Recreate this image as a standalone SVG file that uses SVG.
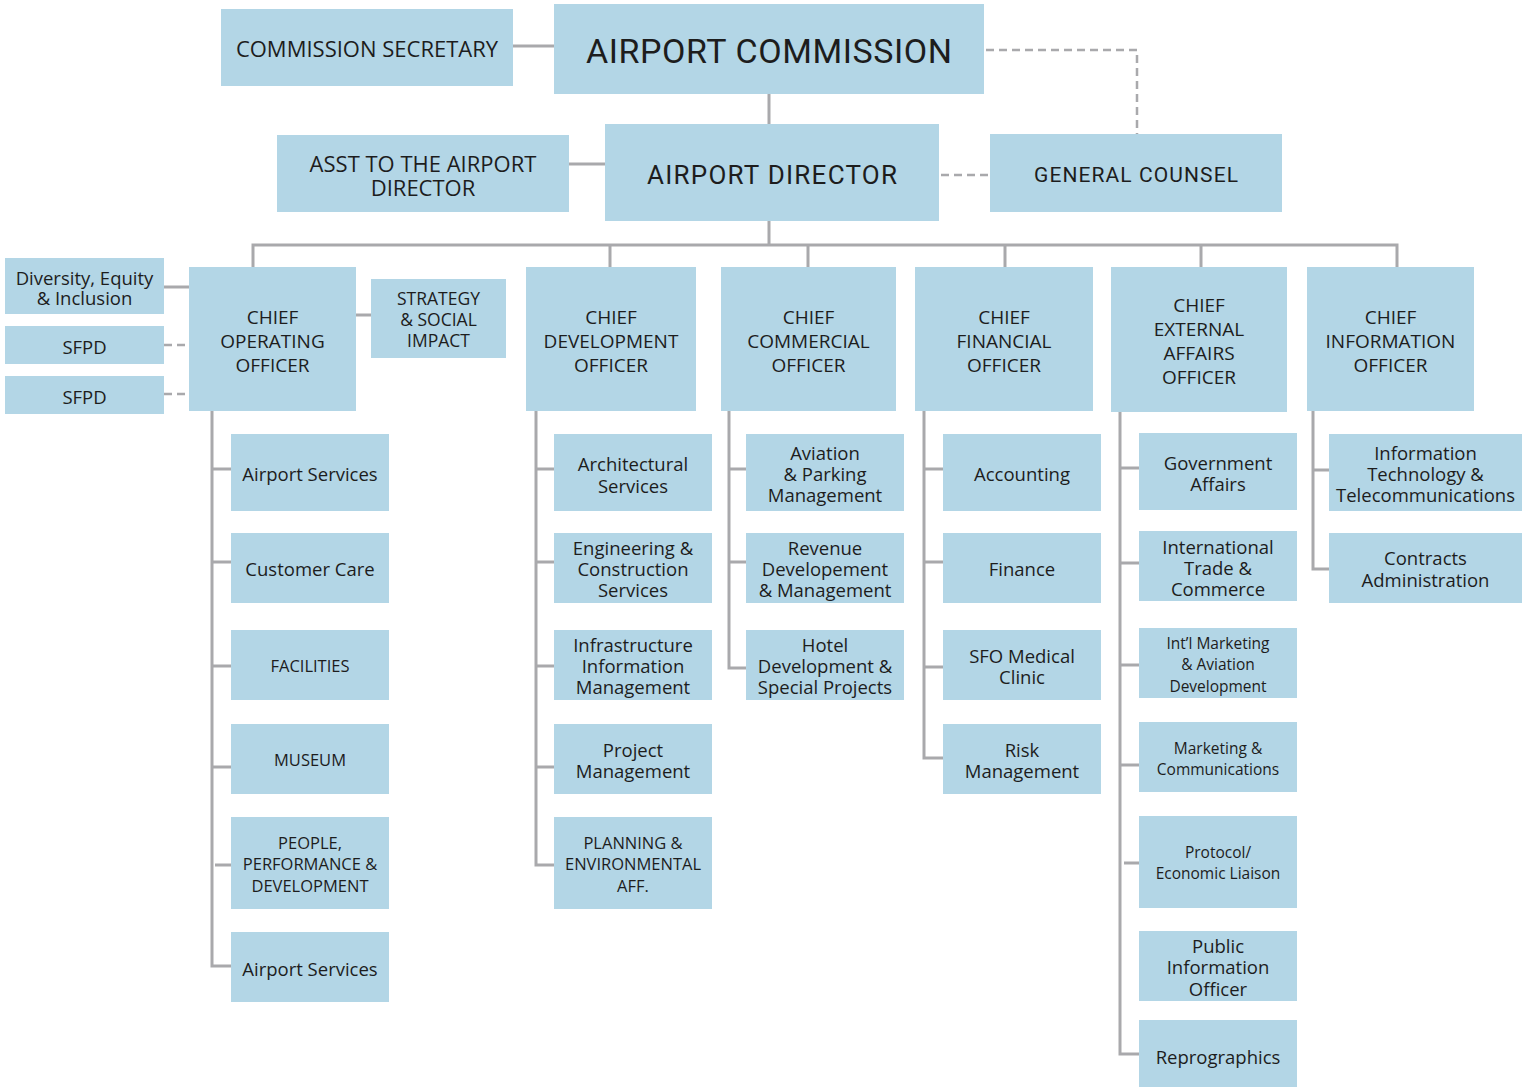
<svg xmlns="http://www.w3.org/2000/svg" width="1526" height="1087" viewBox="0 0 1526 1087">
<style>
.box{fill:#b3d6e6}
.ln{stroke:#a9a9ac;stroke-width:3;fill:none}
.dash{stroke:#a9a9ac;stroke-width:2.5;fill:none;stroke-dasharray:8 5}
text{font-family:"Open Sans","Noto Sans","Liberation Sans",sans-serif;fill:#1d1d1d;text-anchor:middle;dominant-baseline:central}
.ttl{font-family:Roboto,"Liberation Sans",sans-serif}
.top{font-size:22px}
.chief{font-size:19px}
.sub{font-size:18.5px}
.caps{font-size:16.5px}
.sm{font-size:15.5px}
.side{font-size:18.5px}
.strat{font-size:17.5px}
</style>
<rect width="1526" height="1087" fill="#ffffff"/>
<g id="connectors">
<path class="ln" d="M513,46 H554 M769,94 V124 M569,164 H605 M769,221 V245"/>
<path class="ln" d="M253,267 V245 H1397 V267 M610,245 V267 M808,245 V267 M1005,245 V267 M1201,245 V267"/>
<path class="ln" d="M164,287 H189 M356,315 H371"/>
<path class="ln" d="M212,411 V966 H231 M212,469 H231 M212,562 H231 M212,666 H231 M212,767 H231 M215,865 H231"/>
<path class="ln" d="M536,411 V865 H554 M536,469 H554 M536,562 H554 M536,666 H554 M536,767 H554"/>
<path class="ln" d="M729,411 V668 H746 M729,469 H746 M729,562 H746"/>
<path class="ln" d="M924,411 V758 H943 M924,469 H943 M924,562 H943 M924,667 H943"/>
<path class="ln" d="M1120,411 V1054 H1139 M1120,468 H1139 M1120,563 H1139 M1120,665 H1139 M1120,765 H1139 M1124,863 H1139"/>
<path class="ln" d="M1313,411 V569 H1329 M1313,470 H1329"/>
<path class="dash" d="M986,50 H1137 V134"/>
<path class="dash" d="M941,175 H990"/>
<path class="dash" d="M164,345 H189 M164,394 H189"/>
</g>
<g id="commission-secretary"><rect class="box" x="221" y="9" width="292" height="77"/><text class="top" x="367" y="48">COMMISSION SECRETARY</text></g>
<g id="airport-commission"><rect class="box" x="554" y="4" width="430" height="90"/><text class="ttl" x="769" y="51" font-size="34" textLength="366">AIRPORT COMMISSION</text></g>
<g id="asst-director"><rect class="box" x="277" y="135" width="292" height="77"/><text class="top" x="423" y="163">ASST TO THE AIRPORT</text><text class="top" x="423" y="187">DIRECTOR</text></g>
<g id="airport-director"><rect class="box" x="605" y="124" width="334" height="97"/><text class="ttl" x="772" y="175" font-size="26" textLength="250">AIRPORT DIRECTOR</text></g>
<g id="general-counsel"><rect class="box" x="990" y="134" width="292" height="78"/><text class="ttl" x="1136" y="175" font-size="21" textLength="204">GENERAL COUNSEL</text></g>

<g id="diversity"><rect class="box" x="5" y="258" width="159" height="56"/><text class="side" x="84.5" y="277">Diversity, Equity</text><text class="side" x="84.5" y="297.5">&amp; Inclusion</text></g>
<g id="sfpd-1"><rect class="box" x="5" y="326" width="159" height="38"/><text class="side" x="84.5" y="346.5">SFPD</text></g>
<g id="sfpd-2"><rect class="box" x="5" y="376" width="159" height="38"/><text class="side" x="84.5" y="396.5">SFPD</text></g>
<g id="strategy"><rect class="box" x="371" y="279" width="135" height="79"/><text class="strat" x="438.5" y="298">STRATEGY</text><text class="strat" x="438.5" y="319">&amp; SOCIAL</text><text class="strat" x="438.5" y="340">IMPACT</text></g>

<g id="coo"><rect class="box" x="189" y="267" width="167" height="144"/><text class="chief" x="272.5" y="316.5">CHIEF</text><text class="chief" x="272.5" y="340.5">OPERATING</text><text class="chief" x="272.5" y="364.5">OFFICER</text></g>
<g id="cdo"><rect class="box" x="526" y="267" width="170" height="144"/><text class="chief" x="611" y="316.5">CHIEF</text><text class="chief" x="611" y="340.5">DEVELOPMENT</text><text class="chief" x="611" y="364.5">OFFICER</text></g>
<g id="cco"><rect class="box" x="721" y="267" width="175" height="144"/><text class="chief" x="808.5" y="316.5">CHIEF</text><text class="chief" x="808.5" y="340.5">COMMERCIAL</text><text class="chief" x="808.5" y="364.5">OFFICER</text></g>
<g id="cfo"><rect class="box" x="915" y="267" width="178" height="144"/><text class="chief" x="1004" y="316.5">CHIEF</text><text class="chief" x="1004" y="340.5">FINANCIAL</text><text class="chief" x="1004" y="364.5">OFFICER</text></g>
<g id="ceao"><rect class="box" x="1111" y="267" width="176" height="145"/><text class="chief" x="1199" y="304.5">CHIEF</text><text class="chief" x="1199" y="328.5">EXTERNAL</text><text class="chief" x="1199" y="352.5">AFFAIRS</text><text class="chief" x="1199" y="376.5">OFFICER</text></g>
<g id="cio"><rect class="box" x="1307" y="267" width="167" height="144"/><text class="chief" x="1390.5" y="316.5">CHIEF</text><text class="chief" x="1390.5" y="340.5">INFORMATION</text><text class="chief" x="1390.5" y="364.5">OFFICER</text></g>

<g id="coo-airport-services"><rect class="box" x="231" y="434" width="158" height="77"/><text class="sub" x="310" y="473.5">Airport Services</text></g>
<g id="coo-customer-care"><rect class="box" x="231" y="533" width="158" height="70"/><text class="sub" x="310" y="568.5">Customer Care</text></g>
<g id="coo-facilities"><rect class="box" x="231" y="630" width="158" height="70"/><text class="caps" x="310" y="665.5">FACILITIES</text></g>
<g id="coo-museum"><rect class="box" x="231" y="724" width="158" height="70"/><text class="caps" x="310" y="759.5">MUSEUM</text></g>
<g id="coo-people"><rect class="box" x="231" y="817" width="158" height="92"/><text class="caps" x="310" y="842.5">PEOPLE,</text><text class="caps" x="310" y="863.5">PERFORMANCE &amp;</text><text class="caps" x="310" y="885">DEVELOPMENT</text></g>
<g id="coo-airport-services-2"><rect class="box" x="231" y="932" width="158" height="70"/><text class="sub" x="310" y="968.5">Airport Services</text></g>

<g id="cdo-architectural"><rect class="box" x="554" y="434" width="158" height="77"/><text class="sub" x="633" y="463">Architectural</text><text class="sub" x="633" y="485">Services</text></g>
<g id="cdo-engineering"><rect class="box" x="554" y="533" width="158" height="70"/><text class="sub" x="633" y="547.5">Engineering &amp;</text><text class="sub" x="633" y="568.5">Construction</text><text class="sub" x="633" y="589.5">Services</text></g>
<g id="cdo-infrastructure"><rect class="box" x="554" y="630" width="158" height="70"/><text class="sub" x="633" y="644.5">Infrastructure</text><text class="sub" x="633" y="665.5">Information</text><text class="sub" x="633" y="686.5">Management</text></g>
<g id="cdo-project"><rect class="box" x="554" y="724" width="158" height="70"/><text class="sub" x="633" y="749.5">Project</text><text class="sub" x="633" y="770.5">Management</text></g>
<g id="cdo-planning"><rect class="box" x="554" y="817" width="158" height="92"/><text class="caps" x="633" y="842.5">PLANNING &amp;</text><text class="caps" x="633" y="863.5">ENVIRONMENTAL</text><text class="caps" x="633" y="885">AFF.</text></g>

<g id="cco-aviation"><rect class="box" x="746" y="434" width="158" height="77"/><text class="sub" x="825" y="452.5">Aviation</text><text class="sub" x="825" y="473.5">&amp; Parking</text><text class="sub" x="825" y="494.5">Management</text></g>
<g id="cco-revenue"><rect class="box" x="746" y="533" width="158" height="70"/><text class="sub" x="825" y="547.5">Revenue</text><text class="sub" x="825" y="568.5">Developement</text><text class="sub" x="825" y="589.5">&amp; Management</text></g>
<g id="cco-hotel"><rect class="box" x="746" y="630" width="158" height="70"/><text class="sub" x="825" y="644.5">Hotel</text><text class="sub" x="825" y="665.5">Development &amp;</text><text class="sub" x="825" y="686.5">Special Projects</text></g>

<g id="cfo-accounting"><rect class="box" x="943" y="434" width="158" height="77"/><text class="sub" x="1022" y="473.5">Accounting</text></g>
<g id="cfo-finance"><rect class="box" x="943" y="533" width="158" height="70"/><text class="sub" x="1022" y="568.5">Finance</text></g>
<g id="cfo-medical"><rect class="box" x="943" y="630" width="158" height="70"/><text class="sub" x="1022" y="655.5">SFO Medical</text><text class="sub" x="1022" y="676.5">Clinic</text></g>
<g id="cfo-risk"><rect class="box" x="943" y="724" width="158" height="70"/><text class="sub" x="1022" y="749.5">Risk</text><text class="sub" x="1022" y="770.5">Management</text></g>

<g id="ceao-government"><rect class="box" x="1139" y="433" width="158" height="77"/><text class="sub" x="1218" y="462.5">Government</text><text class="sub" x="1218" y="483.5">Affairs</text></g>
<g id="ceao-trade"><rect class="box" x="1139" y="531" width="158" height="70"/><text class="sub" x="1218" y="546">International</text><text class="sub" x="1218" y="567">Trade &amp;</text><text class="sub" x="1218" y="588">Commerce</text></g>
<g id="ceao-intl-marketing"><rect class="box" x="1139" y="628" width="158" height="70"/><text class="sm" x="1218" y="642.5">Int’l Marketing</text><text class="sm" x="1218" y="664">&amp; Aviation</text><text class="sm" x="1218" y="685.5">Development</text></g>
<g id="ceao-marketing"><rect class="box" x="1139" y="722" width="158" height="70"/><text class="sm" x="1218" y="747.5">Marketing &amp;</text><text class="sm" x="1218" y="769">Communications</text></g>
<g id="ceao-protocol"><rect class="box" x="1139" y="816" width="158" height="92"/><text class="sm" x="1218" y="851.5">Protocol/</text><text class="sm" x="1218" y="873">Economic Liaison</text></g>
<g id="ceao-public-info"><rect class="box" x="1139" y="931" width="158" height="70"/><text class="sub" x="1218" y="945.5">Public</text><text class="sub" x="1218" y="966.5">Information</text><text class="sub" x="1218" y="988">Officer</text></g>
<g id="ceao-reprographics"><rect class="box" x="1139" y="1020" width="158" height="67"/><text class="sub" x="1218" y="1056.5">Reprographics</text></g>

<g id="cio-it"><rect class="box" x="1329" y="434" width="193" height="77"/><text class="sub" x="1425.5" y="452.5">Information</text><text class="sub" x="1425.5" y="473.5">Technology &amp;</text><text class="sub" x="1425.5" y="494.5">Telecommunications</text></g>
<g id="cio-contracts"><rect class="box" x="1329" y="533" width="193" height="70"/><text class="sub" x="1425.5" y="557.5">Contracts</text><text class="sub" x="1425.5" y="579.5">Administration</text></g>
</svg>
